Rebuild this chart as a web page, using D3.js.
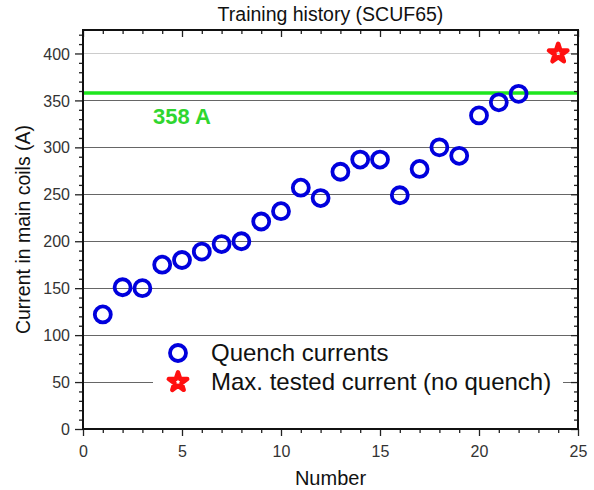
<!doctype html>
<html lang="en">
<head>
  <meta charset="utf-8">
  <title>Training history (SCUF65)</title>
  <script src="https://d3js.org/d3.v7.min.js"></script>
  <style>
    body { margin: 0; background: #fff; }
    text { font-family: "Liberation Sans", Arial, sans-serif; }
  </style>
</head>
<body>
  <div id="chart"></div>
  <script type="text/javascript">

    var width = 594, height = 490;

    // quench number and current (A)
    var quenchNumber = [1,2,3,4,5,6,7,8,9,10,11,12,13,14,15,16,17,18,19,20,21,22];
    var quenchCurrent = [122,151,150,175,180,189,197,200,221,232,257,246,274,287,287,249,277,300,291,334,348,357];
    var maxTested = [24, 400];
    var levelLine = 358;
    var xTicks = [0,5,10,15,20,25];
    var yTicks = [0,50,100,150,200,250,300,350,400];

    var plotLeft = 83, plotRight = 578, plotTop = 30, plotBottom = 429;

    var x = d3.scaleLinear().domain([0,25]).range([plotLeft,plotRight]);
    var y = d3.scaleLinear().domain([0,425]).range([plotBottom,plotTop]);

    var svg = d3.select('#chart')
                .append('svg')
                .attr('width',width)
                .attr('height',height);

    // grid lines
    svg.selectAll('.grid')
       .data(yTicks.filter(function(d) { return d > 0; }))
       .enter()
       .append('line')
       .attr('x1',plotLeft).attr('x2',plotRight)
       .attr('y1',function(d) { return Math.round(y(d)) + 0.5; })
       .attr('y2',function(d) { return Math.round(y(d)) + 0.5; })
       .attr('stroke',function(d) { return d == 400 ? '#cccccc' : '#666'; })
       .attr('stroke-width',1);

    // level line
    svg.append('line')
       .attr('x1',plotLeft).attr('x2',plotRight)
       .attr('y1',y(levelLine)).attr('y2',y(levelLine))
       .attr('stroke','#1ee61e')
       .attr('stroke-width',3.5);

    svg.append('text')
       .attr('x',x(5)).attr('y',y(levelLine) + 31)
       .attr('text-anchor','middle')
       .attr('font-size',22).attr('font-weight','bold')
       .attr('fill','#2fd62f')
       .text(levelLine + ' A');

    // axes
    var bottomAxis = svg.append('g').attr('transform','translate(0,' + plotBottom + ')');
    bottomAxis.call(d3.axisBottom(x).tickValues(d3.range(0,26,1)).tickFormat(''));
    bottomAxis.selectAll('.tick line').attr('y2',function(d) { return d % 5 == 0 ? 7 : 4; });
    bottomAxis.selectAll('.tick')
      .filter(function(d) { return xTicks.indexOf(d) >= 0; })
      .append('text')
      .attr('y',28).attr('fill','#333').attr('font-size',16)
      .text(function(d) { return d; });

    var topAxis = svg.append('g').attr('transform','translate(0,' + plotTop + ')');
    topAxis.call(d3.axisBottom(x).tickValues(d3.range(0,26,1)).tickFormat(''));
    topAxis.selectAll('.tick line').attr('y2',function(d) { return d % 5 == 0 ? 7 : 4; });

    var leftAxis = svg.append('g').attr('transform','translate(' + plotLeft + ',0)');
    leftAxis.call(d3.axisLeft(y).tickValues(d3.range(0,421,10)).tickFormat(''));
    leftAxis.selectAll('.tick line').attr('x2',function(d) { return d % 50 == 0 ? -8 : -4; });
    leftAxis.selectAll('.tick')
      .filter(function(d) { return yTicks.indexOf(d) >= 0; })
      .append('text')
      .attr('x',-13).attr('dy','0.35em').attr('text-anchor','end')
      .attr('fill','#333').attr('font-size',16)
      .text(function(d) { return d; });

    var rightAxis = svg.append('g').attr('transform','translate(' + plotRight + ',0)');
    rightAxis.call(d3.axisLeft(y).tickValues(d3.range(0,421,10)).tickFormat(''));
    rightAxis.selectAll('.tick line').attr('x2',function(d) { return d % 50 == 0 ? -7 : -4; });

    svg.selectAll('.domain').remove();
    svg.selectAll('.tick line').attr('stroke','#222').attr('stroke-width',1.3);

    svg.append('rect')
       .attr('x',plotLeft).attr('y',plotTop)
       .attr('width',plotRight-plotLeft).attr('height',plotBottom-plotTop)
       .attr('fill','none').attr('stroke','#111').attr('stroke-width',2);

    // legend box (white, hides gridline)
    svg.append('rect')
       .attr('x',153).attr('y',338).attr('width',410).attr('height',70)
       .attr('fill','#fff');

    var star = d3.symbol().type(d3.symbolStar).size(105);

    // quench points
    svg.selectAll('.quench')
       .data(quenchNumber)
       .enter()
       .append('circle')
       .attr('class','quench')
       .attr('cx',function(d) { return x(d); })
       .attr('cy',function(d,i) { return y(quenchCurrent[i]); })
       .attr('r',8)
       .attr('fill','none')
       .attr('stroke','#0000dd')
       .attr('stroke-width',3.8);

    svg.append('path')
       .attr('d',star)
       .attr('transform','translate(' + x(maxTested[0]) + ',' + y(maxTested[1]) + ')')
       .attr('fill','none').attr('stroke','#ff1010').attr('stroke-width',4.5)
       .attr('stroke-linejoin','round');

    // legend
    svg.append('circle')
       .attr('cx',178).attr('cy',353).attr('r',8)
       .attr('fill','none').attr('stroke','#0000dd').attr('stroke-width',3.8);
    svg.append('text')
       .attr('x',211).attr('y',361).attr('font-size',24).attr('fill','#111')
       .text('Quench currents');

    svg.append('path')
       .attr('d',star)
       .attr('transform','translate(178,382)')
       .attr('fill','none').attr('stroke','#ff1010').attr('stroke-width',4.5)
       .attr('stroke-linejoin','round');
    svg.append('text')
       .attr('x',211).attr('y',390).attr('font-size',24).attr('fill','#111')
       .text('Max. tested current (no quench)');

    // titles
    svg.append('text')
       .attr('x',(plotLeft+plotRight)/2).attr('y',21)
       .attr('text-anchor','middle').attr('font-size',19.5).attr('fill','#111')
       .text('Training history (SCUF65)');

    svg.append('text')
       .attr('x',(plotLeft+plotRight)/2).attr('y',485)
       .attr('text-anchor','middle').attr('font-size',20).attr('fill','#111')
       .text('Number');

    svg.append('text')
       .attr('transform','translate(30,' + ((plotTop+plotBottom)/2) + ') rotate(-90)')
       .attr('text-anchor','middle').attr('font-size',19.5).attr('fill','#111')
       .text('Current in main coils (A)');

  </script>
</body>
</html>
